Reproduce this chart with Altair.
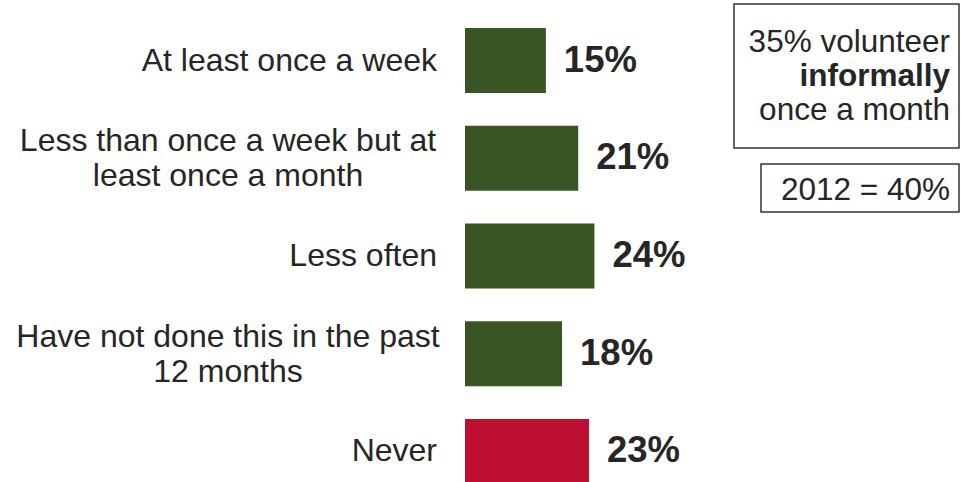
import altair as alt
import pandas as pd

categories = [
    "At least once a week",
    "Less than once a week but at\nleast once a month",
    "Less often",
    "Have not done this in the past\n12 months",
    "Never",
]
values = [15, 21, 24, 18, 23]
labels = ["15%", "21%", "24%", "18%", "23%"]
colors = ["#375623", "#375623", "#375623", "#375623", "#BE1032"]
box_lines = ["35% volunteer", "informally", "once a month"]
box_weights = ["normal", "bold", "normal"]
note = "2012 = 40%"

df = pd.DataFrame({"cat": categories, "value": values, "label": labels, "color": colors})
df["multi"] = df["cat"].str.contains("\n")

FONT = "Liberation Sans"
TXT = "#262626"

y_enc = alt.Y("cat:N", sort=categories, axis=None,
              scale=alt.Scale(paddingInner=0.335, paddingOuter=0, range=[0, 456]))
x_enc = alt.X("value:Q", axis=None, scale=alt.Scale(domain=[0, 92]))

base = alt.Chart(df)

bars = base.mark_bar().encode(
    x=x_enc, y=y_enc, color=alt.Color("color:N", scale=None)
)

vals = base.mark_text(align="left", baseline="middle", dx=18, font=FONT,
                      fontSize=36.5, fontWeight="bold", color=TXT).encode(
    x=x_enc, y=y_enc, text="label:N"
)

single = base.transform_filter("!datum.multi").mark_text(
    align="right", baseline="middle", font=FONT, fontSize=32, color=TXT
).encode(x=alt.value(-28), y=y_enc, text="cat:N")

multi = base.transform_filter("datum.multi").mark_text(
    align="center", baseline="middle", font=FONT, fontSize=32, color=TXT,
    lineBreak="\n", lineHeight=35, dy=-17
).encode(x=alt.value(-237), y=y_enc, text="cat:N")

box = alt.Chart(pd.DataFrame({"a": [0]})).mark_rect(
    fill="white", stroke="#333333", strokeWidth=1.5
).encode(x=alt.value(269), x2=alt.value(494), y=alt.value(-24), y2=alt.value(120))

box2 = alt.Chart(pd.DataFrame({"a": [0]})).mark_rect(
    fill="white", stroke="#333333", strokeWidth=1.5
).encode(x=alt.value(296), x2=alt.value(494), y=alt.value(136), y2=alt.value(184))

box_text_layers = []
for i, (t, w) in enumerate(zip(box_lines, box_weights)):
    box_text_layers.append(
        alt.Chart(pd.DataFrame({"t": [t]})).mark_text(
            align="right", baseline="alphabetic", font=FONT, fontSize=31.5,
            fontWeight=w, color=TXT
        ).encode(x=alt.value(485), y=alt.value(24 + i * 34), text="t:N")
    )

note_text = alt.Chart(pd.DataFrame({"t": [note]})).mark_text(
    align="right", baseline="alphabetic", font=FONT, fontSize=31.5, color=TXT
).encode(x=alt.value(485), y=alt.value(172), text="t:N")

chart = alt.layer(bars, vals, single, multi, box, box2, *box_text_layers, note_text).properties(
    width=496, height=454,
    padding={"left": 465, "top": 28, "right": 0, "bottom": 0},
    autosize=alt.AutoSizeParams(type="none"),
    background="white",
).configure_view(stroke=None)

chart.save("out.html", embed_options={"renderer": "svg", "actions": False})
